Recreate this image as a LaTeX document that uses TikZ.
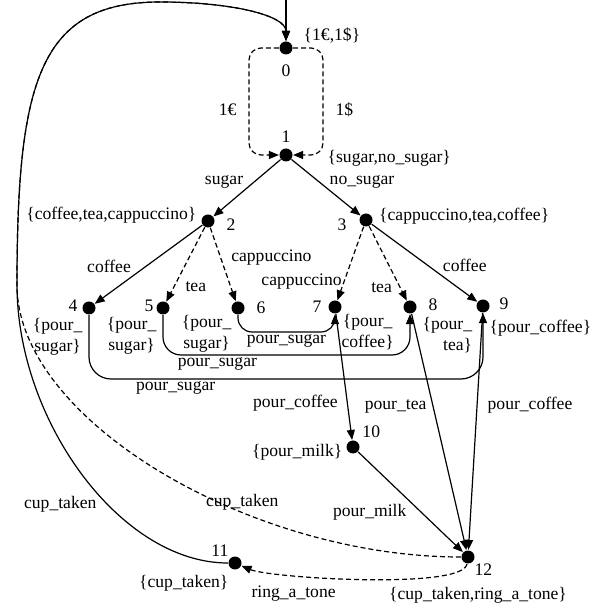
\documentclass[tikz,border=0pt]{standalone}
\usepackage{fontspec}
\setmainfont{Liberation Serif}
\usetikzlibrary{arrows.meta}
\tikzset{
machine/.style={
    >={Triangle[length=5pt,width=4pt]},
    x=0.5pt,
    y=-0.5pt,
    line width=0.6pt,
    font=\fontsize{8.8}{10.5}\selectfont
},
state/.style={
    circle,
    fill=black,
    inner sep=0pt,
    minimum size=6.5pt
},
act/.style={
    inner sep=1pt
},
num/.style={
    inner sep=0.5pt
},
set/.style={
    inner sep=0.5pt,
    align=center
},
does/.style={
    ->
},
may/.style={
    ->,
    dash pattern=on 2.5pt off 1.5pt
}}

\begin{document}
\begin{tikzpicture}[machine]
\useasboundingbox (0,0) rectangle (610,608);

\node[state]    (s0)    at (286,48)     [label={[num,label distance=4pt]below:0}, label={[set,label distance=4.5pt,yshift=6.5pt]right:\{1€,1\$\}}]    {};
\node[state]    (s1)    at (286,155)    [label={[num,label distance=1.75pt]above:1}, label={[set,label distance=16.5pt,yshift=-1.5pt]right:\{sugar,no\_sugar\}}]    {};
\node[state]    (s2)    at (208,221)    [label={[num,label distance=5pt,yshift=-2pt]right:2}, label={[set,label distance=1.5pt,yshift=3pt]left:\{coffee,tea,cappuccino\}}]    {};
\node[state]    (s3)    at (366,220)    [label={[num,label distance=5.5pt,yshift=-2.5pt]left:3}, label={[set,label distance=2.25pt,yshift=2pt]right:\{cappuccino,tea,coffee\}}]    {};
\node[state]    (s4)    at (89,308)     [label={[num,label distance=1.5pt,yshift=1pt]left:4}, label={[set,yshift=-2pt]below left:\{pour\_\\sugar\}}]    {};
\node[state]    (s5)    at (163,308)    [label={[num,label distance=0.5pt,yshift=1pt]left:5}, label={[set,yshift=-1.5pt]below left:\{pour\_\\sugar\}}]    {};
\node[state]    (s6)    at (238,308)    [label={[num,label distance=5pt]right:6}, label={[set,yshift=-0.5pt]below left:\{pour\_\\sugar\}}]    {};
\node[state]    (s7)    at (335,307)    [label={[num,label distance=2.5pt]left:7}, label={[set,yshift=-0.5pt]below right:\{pour\_\\coffee\}}]    {};
\node[state]    (s8)    at (410,307)    [label={[num,label distance=5pt,yshift=1pt]right:8}, label={[set,align=right,xshift=3pt,yshift=-2pt]below right:\{pour\_\\tea\}}]    {};
\node[state]    (s9)    at (483,306)    [label={[num,label distance=4pt,yshift=1pt]right:9}, label={[set,yshift=-3.5pt]below right:\{pour\_coffee\}}]    {};
\node[state]    (s10)   at (353,447)    [label={[num,label distance=2pt]above right:10}, label={[set,label distance=1pt,yshift=-2.5pt]left:\{pour\_milk\}}]    {};
\node[state]    (s11)   at (235,563)    [label={[num]above left:11}, label={[set,yshift=-3pt]below left:\{cup\_taken\}}]    {};
\node[state]    (s12)   at (468,557)    [label={[num]below right:12}, label={[set,label distance=10.75pt,xshift=5pt]below:\{cup\_taken,ring\_a\_tone\}}]    {};

\coordinate (start) at (286,0);
\coordinate (low67) at (335,332);
\coordinate (low58) at (410,355);
\coordinate (low49) at (483,379);
\coordinate (join)  at (17,285);
\coordinate (top)   at (160,2);

% coins
\draw[does] (start) -- (s0);
\draw[may, rounded corners=6pt] (s0) -- ++(-37,0) |- node[act,pos=0.29,left=5pt] {1€} (s1);
\draw[may, rounded corners=6pt] (s0) -- ++(37,0) |- node[act,pos=0.29,right=5pt] {1\$} (s1);

% sugar choice
\path (s1) edge[does] node[act,pos=0.4,left=4pt] {sugar} (s2);
\path (s1) edge[does] node[act,pos=0.4,right=4pt] {no\_sugar} (s3);

% drinks
\path (s2) edge[does] node[act,pos=0.64,above left] {coffee} (s4);
\path (s2) edge[may] node[act,pos=0.8,right=4.5pt] {tea} (s5);
\path (s2) edge[may] node[act,pos=0.41,right=4pt] {cappuccino} (s6);
\path (s3) edge[may] node[act,pos=0.74,left] {cappuccino} (s7);
\path (s3) edge[may] node[act,pos=0.83,left=3pt] {tea} (s8);
\path (s3) edge[does] node[act,pos=0.65,above right] {coffee} (s9);

% pour sugar
\draw[does, rounded corners=7pt] (s6) |- node[act,pos=0.75,below] {pour\_sugar} (low67) -- (s7);
\draw[does, rounded corners=9pt] (s5) |- node[act,pos=0.61,below] {pour\_sugar} (low58) -- (s8);
\draw[does, rounded corners=11pt] (s4) |- node[act,pos=0.61,below] {pour\_sugar} (low49) -- (s9);

% pour
\path (s7) edge[does] node[act,pos=0.71,left=3.5pt] {pour\_coffee} (s10);
\path (s8) edge[does] node[act,pos=0.39,left=2pt] {pour\_tea} (s12);
\path (s9) edge[does] node[act,pos=0.39,right=4pt] {pour\_coffee} (s12);
\path (s10) edge[does] node[act,pos=0.6,left=6pt] {pour\_milk} (s12);

% back to start
\draw[does] (s11) .. controls (120,563) and (17,420) .. (join) node[act,pos=0.4,left=4pt] {cup\_taken}
    .. controls (17,80) and (40,2) .. (top) .. controls (230,2) and (286,15) .. (s0);
\draw[may] (s12) .. controls (250,557) and (17,420) .. (join) node[act,pos=0.35,above] {cup\_taken}
    .. controls (17,80) and (40,2) .. (top) .. controls (230,2) and (286,15) .. (s0);
\draw[may] (s12) .. controls (463,590) and (270,578) .. (s11) node[act,pos=0.73,below=4pt] {ring\_a\_tone};
\end{tikzpicture}
\end{document}
